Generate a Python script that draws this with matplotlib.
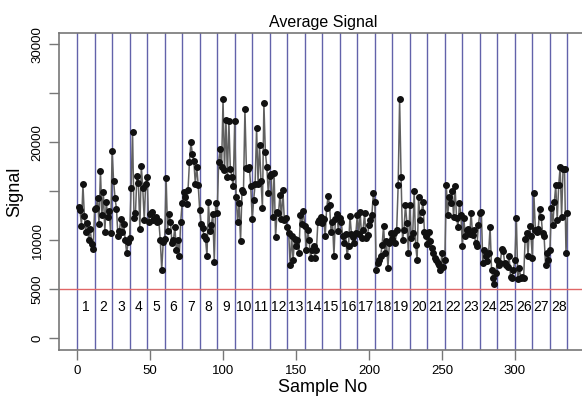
import numpy as np
import matplotlib
matplotlib.use("Agg")
import matplotlib.pyplot as plt

plt.rcParams['font.family'] = ['Liberation Sans', 'DejaVu Sans']

# Average signal per sample, 28 groups of 12 samples
g01 = [13400, 13100, 11500, 15700, 12500, 10900, 11800, 10050, 11200, 9600, 9100, 13200]
g02 = [13300, 14300, 11700, 17100, 12600, 14900, 10900, 13900, 12400, 13000, 10700, 19100]
g03 = [16100, 14300, 13200, 10400, 11000, 12200, 10900, 11700, 10000, 8700, 9800, 10200]
g04 = [15300, 21100, 12300, 12800, 16600, 15900, 11200, 17600, 15300, 12100, 15800, 16500]
g05 = [11900, 12700, 12900, 12100, 12200, 12400, 11900, 12000, 10000, 7000, 9800, 10100]
g06 = [16400, 11000, 12700, 11900, 9700, 10000, 11400, 9000, 10000, 8400, 11900, 13800]
g07 = [14900, 14400, 13700, 15100, 18000, 20000, 18800, 18100, 15800, 17500, 15600, 13100]
g08 = [11700, 11300, 10400, 10100, 8400, 13900, 11000, 11600, 12700, 7800, 13800, 12800]
g09 = [18000, 19300, 17500, 24400, 17200, 22300, 16500, 22200, 17300, 16500, 15500, 22200]
g10 = [14400, 11900, 13800, 9900, 15100, 14900, 23400, 17400, 17300, 17500, 15500, 12200]
g11 = [14100, 15800, 21500, 15800, 19700, 16100, 13300, 24000, 19000, 17500, 14800, 16600]
g12 = [16800, 12400, 16900, 10300, 12900, 12800, 14600, 12200, 15100, 12100, 12300, 11400]
g13 = [10700, 7500, 10400, 8000, 10100, 9400, 10000, 8700, 12600, 11700, 13000, 11500]
g14 = [9000, 11100, 10000, 8200, 9000, 9400, 8200, 9000, 11900, 12100, 12400, 11800]
g15 = [12200, 10400, 13300, 14500, 13600, 10900, 11900, 8400, 12200, 12700, 11000, 12300]
g16 = [11900, 10400, 9700, 10600, 8400, 9400, 12500, 10600, 10300, 9700, 10700, 12600]
g17 = [10600, 12900, 10200, 11100, 12800, 10200, 10500, 11600, 12100, 12600, 14800, 13900]
g18 = [7000, 7700, 8000, 8400, 9500, 11500, 8700, 9900, 7200, 9700, 10700, 10100]
g19 = [10700, 9700, 11100, 15600, 24400, 16500, 10000, 11100, 13600, 11800, 8700, 13600]
g20 = [10200, 10700, 15000, 9500, 8000, 14400, 12100, 12900, 13900, 10900, 10400, 9600]
g21 = [10900, 9900, 9200, 8700, 8200, 8000, 7700, 7500, 7000, 8700, 7300, 8000]
g22 = [15600, 12600, 14400, 13800, 15000, 12400, 15500, 12300, 11400, 13800, 12600, 9400]
g23 = [12300, 10400, 11100, 11200, 10600, 12800, 10500, 11100, 9700, 9400, 11600, 12800]
g24 = [12900, 7700, 9000, 8400, 7900, 8700, 11400, 7000, 6200, 5500, 6700, 8000]
g25 = [7500, 7700, 9100, 8900, 7700, 7500, 7300, 8400, 6300, 6200, 7000, 8000]
g26 = [12300, 6000, 7200, 6200, 6300, 6200, 10100, 10700, 8400, 11500, 10400, 8200]
g27 = [14800, 11100, 10900, 11200, 13200, 12400, 10700, 10400, 7500, 8700, 8000, 9000]
g28 = [13300, 11600, 13900, 15600, 12100, 15600, 17500, 12400, 17300, 17300, 8700, 12800]

groups = [g01, g02, g03, g04, g05, g06, g07, g08, g09, g10, g11, g12, g13, g14,
          g15, g16, g17, g18, g19, g20, g21, g22, g23, g24, g25, g26, g27, g28]
group_labels = [str(i) for i in range(1, 29)]
group_size = 12
threshold = 5000

x_ticks = [0, 50, 100, 150, 200, 250, 300]
y_ticks = [0, 5000, 10000, 15000, 20000, 25000, 30000]
y_tick_labels = ["0", "5000", "10000", "", "20000", "", "30000"]

signal = np.concatenate([np.array(g, dtype=float) for g in groups])
sample = np.arange(1, len(signal) + 1)
n_groups = len(groups)

fig = plt.figure(figsize=(5.82, 4.03), dpi=100)
ax = fig.add_axes([59/582, 1 - 350/403, (587 - 59)/582, (350 - 32.7)/403])

# group boundaries
for k in range(n_groups + 1):
    ax.axvline(k * group_size, color='#6262aa', lw=1.0, zorder=1)
# threshold
ax.axhline(threshold, color='#e06666', lw=1.0, zorder=1)

ax.plot(sample, signal, color='#606060', lw=1.1, zorder=2)
ax.plot(sample, signal, 'o', color='#111111', ms=4, zorder=3)

for k, lab in enumerate(group_labels):
    ax.text(k * group_size + group_size / 2, 3200, lab, ha='center', va='center',
            fontsize=10, color='black')

rng = sample.max() - sample.min()
ax.set_xlim(sample.min() - 0.04 * rng, sample.max() + 0.04 * rng)
ax.set_ylim(-1200, 31200)

ax.set_xticks(x_ticks)
ax.set_yticks(y_ticks)
ax.set_yticklabels(y_tick_labels, rotation=90, va='center')
ax.tick_params(axis='both', direction='out', length=7, width=1, color='#777777',
               labelsize=9.5, pad=4)
for s in ax.spines.values():
    s.set_color('#777777')
    s.set_linewidth(1.2)

ax.set_title('Average Signal', fontsize=11.5, pad=4)
ax.set_xlabel('Sample No', fontsize=13, labelpad=1)
ax.set_ylabel('Signal', fontsize=13, labelpad=6)

fig.savefig('out.png', dpi=100)
